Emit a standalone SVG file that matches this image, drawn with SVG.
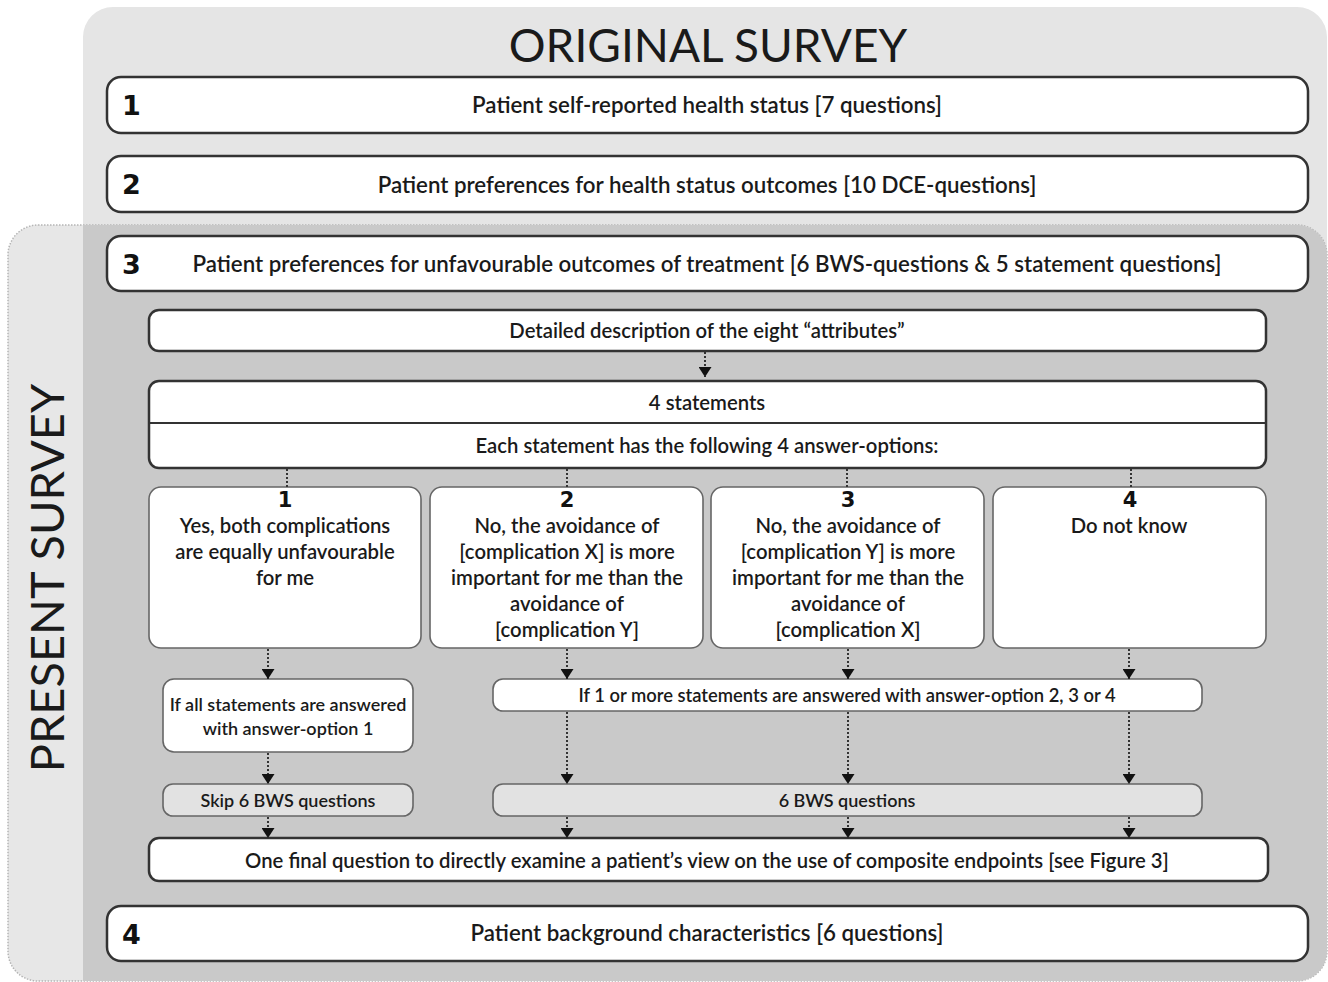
<svg xmlns="http://www.w3.org/2000/svg" width="1328" height="982" viewBox="0 0 1328 982">
<style>
.t{font-family:Lato,"Open Sans","Liberation Sans",sans-serif;fill:#1a1a1a;text-anchor:middle;font-weight:600}
.L{font-size:22.3px}
.m{font-size:20.3px}
.s{font-size:18px}
.num{font-family:"DejaVu Sans","Liberation Sans",sans-serif;font-weight:bold;font-size:27px;fill:#111}
.anum{font-family:"DejaVu Sans","Liberation Sans",sans-serif;font-weight:bold;font-size:21px;fill:#111;text-anchor:middle}
.big{fill:#fff;stroke:#333;stroke-width:2.5}
.ans{fill:#fff;stroke:#666;stroke-width:1.6}
.gr{fill:#e2e2e2;stroke:#666;stroke-width:1.6}
.c{stroke:#333;stroke-width:2;stroke-dasharray:2 2;fill:none}
</style>
<defs>
<marker id="ah" markerWidth="10" markerHeight="13" refX="10" refY="6.5" orient="auto" markerUnits="userSpaceOnUse" viewBox="0 0 10 13">
<path d="M0,0 L10,6.5 L0,13 Z" fill="#111"/>
</marker>
</defs>
<g id="backgrounds">
<rect x="83" y="7" width="1244" height="974" rx="30" fill="#e5e5e5"/>
<rect x="8" y="225" width="1319" height="756" rx="30" fill="#e7e7e7" stroke="#b5b5b5" stroke-width="1.5" stroke-dasharray="1.5 1.5"/>
<path d="M83,225 L1297,225 A30,30 0 0 1 1327,255 L1327,951 A30,30 0 0 1 1297,981 L83,981 Z" fill="#c9c9c9"/>
<text class="t" x="708" y="62" style="font-size:46px;font-weight:normal">ORIGINAL SURVEY</text>
<text class="t" transform="translate(64,578) rotate(-90)" style="font-size:47px;font-weight:normal">PRESENT SURVEY</text>
</g>
<g id="node-1">
<rect class="big" x="107" y="77" width="1201" height="56" rx="14"/>
<text class="num" x="122" y="115">1</text>
<text class="t L" x="707" y="113">Patient self-reported health status [7 questions]</text>
</g>
<g id="node-2">
<rect class="big" x="107" y="156" width="1201" height="56" rx="14"/>
<text class="num" x="122" y="194">2</text>
<text class="t L" x="707" y="193">Patient preferences for health status outcomes [10 DCE-questions]</text>
</g>
<g id="node-3">
<rect class="big" x="107" y="236" width="1201" height="55" rx="14"/>
<text class="num" x="122" y="274">3</text>
<text class="t L" x="707" y="272">Patient preferences for unfavourable outcomes of treatment [6 BWS-questions &amp; 5 statement questions]</text>
</g>
<g id="node-description">
<rect class="big" x="149" y="310" width="1117" height="41" rx="10"/>
<text class="t m" x="707" y="338">Detailed description of the eight “attributes”</text>
</g>
<g id="node-statements">
<rect class="big" x="149" y="381" width="1117" height="87" rx="10"/>
<line x1="149" y1="423" x2="1266" y2="423" stroke="#333" stroke-width="2"/>
<text class="t m" x="707" y="410">4 statements</text>
<text class="t m" x="707" y="453">Each statement has the following 4 answer-options:</text>
</g>
<g id="node-answer-1">
<rect class="ans" x="149" y="487" width="272" height="161" rx="12"/>
<text class="anum" x="285" y="507">1</text>
<text class="t m" x="285" y="533">Yes, both complications</text>
<text class="t m" x="285" y="559">are equally unfavourable</text>
<text class="t m" x="285" y="585">for me</text>
</g>
<g id="node-answer-2">
<rect class="ans" x="430" y="487" width="273" height="161" rx="12"/>
<text class="anum" x="567" y="507">2</text>
<text class="t m" x="567" y="533">No, the avoidance of</text>
<text class="t m" x="567" y="559">[complication X] is more</text>
<text class="t m" x="567" y="585">important for me than the</text>
<text class="t m" x="567" y="611">avoidance of</text>
<text class="t m" x="567" y="637">[complication Y]</text>
</g>
<g id="node-answer-3">
<rect class="ans" x="711" y="487" width="273" height="161" rx="12"/>
<text class="anum" x="848" y="507">3</text>
<text class="t m" x="848" y="533">No, the avoidance of</text>
<text class="t m" x="848" y="559">[complication Y] is more</text>
<text class="t m" x="848" y="585">important for me than the</text>
<text class="t m" x="848" y="611">avoidance of</text>
<text class="t m" x="848" y="637">[complication X]</text>
</g>
<g id="node-answer-4">
<rect class="ans" x="993" y="487" width="273" height="161" rx="12"/>
<text class="anum" x="1130" y="507">4</text>
<text class="t m" x="1129" y="533">Do not know</text>
</g>
<g id="node-if-all">
<rect class="ans" x="163" y="679" width="250" height="73" rx="11"/>
<text class="t s" x="288" y="711">If all statements are answered</text>
<text class="t s" x="288" y="735">with answer-option 1</text>
</g>
<g id="node-if-one">
<rect class="ans" x="493" y="679" width="709" height="32" rx="10"/>
<text class="t s" x="847" y="702" style="font-size:18.4px">If 1 or more statements are answered with answer-option 2, 3 or 4</text>
</g>
<g id="node-skip">
<rect class="gr" x="163" y="784" width="250" height="32" rx="10"/>
<text class="t s" x="288" y="807">Skip 6 BWS questions</text>
</g>
<g id="node-bws">
<rect class="gr" x="493" y="784" width="709" height="32" rx="10"/>
<text class="t s" x="847" y="807">6 BWS questions</text>
</g>
<g id="node-final">
<rect class="big" x="149" y="838" width="1119" height="43" rx="10"/>
<text class="t m" x="707" y="868">One final question to directly examine a patient’s view on the use of composite endpoints [see Figure 3]</text>
</g>
<g id="node-4">
<rect class="big" x="107" y="906" width="1201" height="55" rx="14"/>
<text class="num" x="122" y="944">4</text>
<text class="t L" x="707" y="941">Patient background characteristics [6 questions]</text>
</g>
<g id="connectors">
<line class="c" x1="705" y1="352" x2="705" y2="377" marker-end="url(#ah)"/>
<line class="c" x1="287" y1="469" x2="287" y2="487"/>
<line class="c" x1="567" y1="469" x2="567" y2="487"/>
<line class="c" x1="847" y1="469" x2="847" y2="487"/>
<line class="c" x1="1131" y1="469" x2="1131" y2="487"/>
<line class="c" x1="268" y1="649" x2="268" y2="679" marker-end="url(#ah)"/>
<line class="c" x1="567" y1="649" x2="567" y2="679" marker-end="url(#ah)"/>
<line class="c" x1="848" y1="649" x2="848" y2="679" marker-end="url(#ah)"/>
<line class="c" x1="1129" y1="649" x2="1129" y2="679" marker-end="url(#ah)"/>
<line class="c" x1="268" y1="753" x2="268" y2="784" marker-end="url(#ah)"/>
<line class="c" x1="567" y1="712" x2="567" y2="784" marker-end="url(#ah)"/>
<line class="c" x1="848" y1="712" x2="848" y2="784" marker-end="url(#ah)"/>
<line class="c" x1="1129" y1="712" x2="1129" y2="784" marker-end="url(#ah)"/>
<line class="c" x1="268" y1="817" x2="268" y2="838" marker-end="url(#ah)"/>
<line class="c" x1="567" y1="817" x2="567" y2="838" marker-end="url(#ah)"/>
<line class="c" x1="848" y1="817" x2="848" y2="838" marker-end="url(#ah)"/>
<line class="c" x1="1129" y1="817" x2="1129" y2="838" marker-end="url(#ah)"/>
</g>
</svg>
